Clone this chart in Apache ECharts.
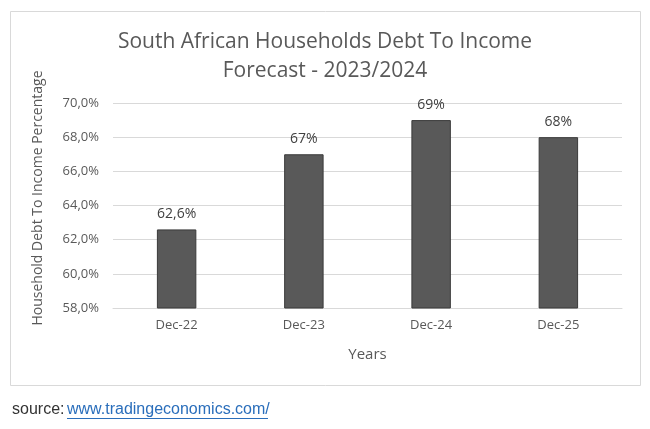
<!DOCTYPE html>
<html>
<head>
<meta charset="utf-8">
<script src="https://cdn.jsdelivr.net/npm/echarts@6/dist/echarts.min.js"></script>
<style>
html,body{margin:0;padding:0;background:#fff;}
#chart{width:650px;height:429px;}
</style>
</head>
<body>
<div id="chart"></div>
<script>
var categories = ['Dec-22', 'Dec-23', 'Dec-24', 'Dec-25'];
var values = [62.6, 67, 69, 68];
var valueLabels = ['62,6%', '67%', '69%', '68%'];
var titleLines = ['South African Households Debt To Income', 'Forecast - 2023/2024'];
var yAxisName = 'Household Debt To Income Percentage';
var xAxisName = 'Years';

var font = 'Open Sans';
var chart = echarts.init(document.getElementById('chart'));
chart.setOption({
  animation: false,
  backgroundColor: '#fff',
  title: {
    text: titleLines.join('\n'),
    left: 'center',
    top: 23,
    textStyle: {fontFamily: font, fontSize: 21, fontWeight: 'normal', color: '#595959', lineHeight: 29}
  },
  grid: {left: 113, right: 28, top: 103, bottom: 121},
  xAxis: {
    type: 'category',
    data: categories,
    name: xAxisName,
    nameLocation: 'middle',
    nameGap: 39,
    nameTextStyle: {fontFamily: font, fontSize: 15, color: '#595959'},
    axisLine: {lineStyle: {color: '#d9d9d9', width: 1}},
    axisTick: {show: false},
    axisLabel: {fontFamily: font, fontSize: 13, color: '#595959', margin: 11}
  },
  yAxis: {
    type: 'value',
    min: 58, max: 70, interval: 2,
    axisLine: {show: false},
    axisTick: {show: false},
    splitLine: {lineStyle: {color: '#d9d9d9', width: 1}},
    axisLabel: {fontFamily: font, fontSize: 13, color: '#595959', margin: 14,
      formatter: function (v) { return v.toFixed(1).replace('.', ',') + '%'; }}
  },
  series: [{
    type: 'bar',
    data: values,
    barWidth: '31%',
    itemStyle: {color: '#595959', borderColor: '#3a3a3a', borderWidth: 1},
    label: {
      show: true, position: 'top', distance: 8,
      fontFamily: font, fontSize: 14, color: '#404040',
      formatter: function (p) { return valueLabels[p.dataIndex]; }
    }
  }],
  graphic: [
    {type: 'rect', shape: {x: 10.5, y: 11.5, width: 630, height: 374}, style: {fill: 'none', stroke: '#d9d9d9', lineWidth: 1}, z: -1},
    {type: 'text', x: 38, y: 198, rotation: Math.PI / 2,
      style: {text: yAxisName, font: '14px "Open Sans"', fill: '#595959', align: 'center', verticalAlign: 'middle'}},
    {type: 'text', left: 12, top: 402, style: {text: 'source: ', font: '16px "Liberation Sans Narrow", "Liberation Sans"', fill: '#333'}},
    {type: 'text', left: 67, top: 402, style: {text: 'www.tradingeconomics.com/', font: '16px "Liberation Sans Narrow", "Liberation Sans"', fill: '#2a6ebb'}},
    {type: 'line', shape: {x1: 67, y1: 418.5, x2: 268, y2: 418.5}, style: {stroke: '#2a6ebb', lineWidth: 1}}
  ]
});
</script>
</body>
</html>
